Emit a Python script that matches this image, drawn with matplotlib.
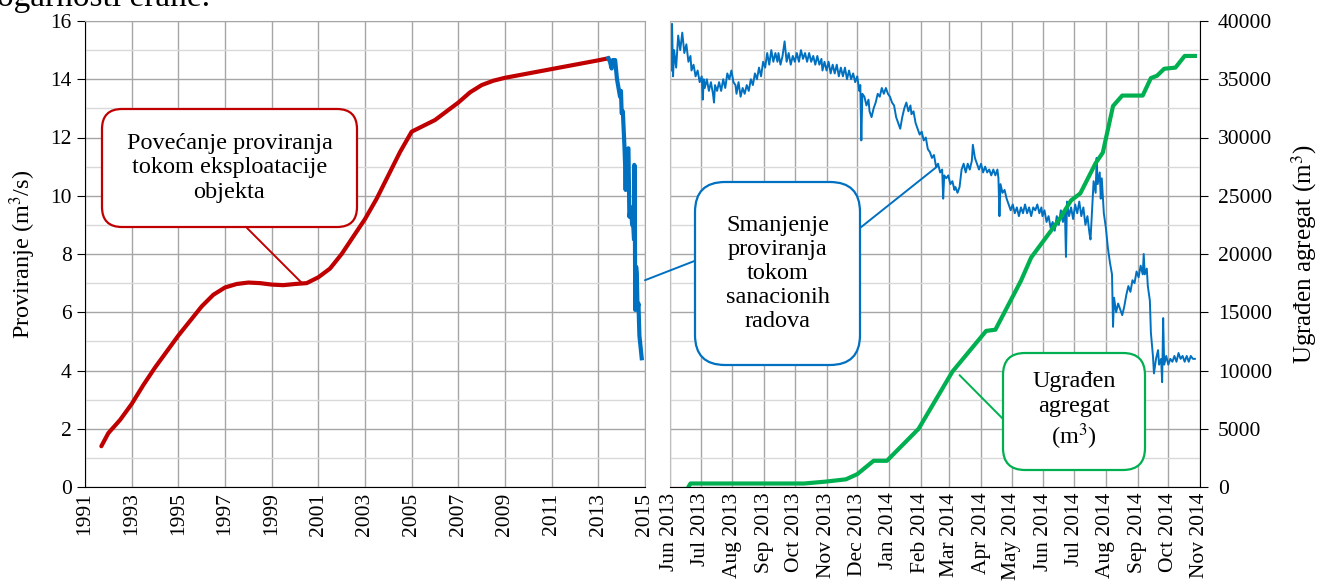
import matplotlib
matplotlib.use("Agg")
import matplotlib.pyplot as plt
import matplotlib.dates as mdates
import numpy as np
from matplotlib.patches import FancyBboxPatch, ConnectionPatch

plt.rcParams["font.family"] = ["Liberation Serif", "DejaVu Serif"]
plt.rcParams["mathtext.fontset"] = "stix"

RED = "#C00000"
BLUE = "#0070C0"
GREEN = "#00B050"

# seepage during operation (year, m3/s)
red_year = [1991.7, 1992.0, 1992.5, 1993.0, 1993.5, 1994.0, 1994.5, 1995.0, 1995.5,
            1996.0, 1996.5, 1997.0, 1997.5, 1998.0, 1998.5, 1999.0, 1999.5, 2000.0,
            2000.5, 2001.0, 2001.5, 2002.0, 2002.5, 2003.0, 2003.5, 2004.0, 2004.5,
            2005.0, 2005.5, 2006.0, 2006.5, 2007.0, 2007.5, 2008.0, 2008.5, 2009.0,
            2010.0, 2011.0, 2012.0, 2013.0, 2013.43]
red_q = [1.4, 1.85, 2.3, 2.85, 3.5, 4.1, 4.65, 5.2, 5.7,
         6.2, 6.6, 6.85, 6.97, 7.02, 7.0, 6.95, 6.93, 6.97,
         7.0, 7.2, 7.5, 8.0, 8.6, 9.2, 9.9, 10.7, 11.5,
         12.2, 12.4, 12.6, 12.9, 13.2, 13.55, 13.8, 13.95, 14.05,
         14.2, 14.35, 14.5, 14.65, 14.72]

# seepage during remediation, as drawn on the long-term panel (year, m3/s)
blue_year_lt = [2013.43, 2013.5, 2013.57, 2013.62, 2013.72, 2013.8, 2013.93, 2013.97,
                2014.0, 2014.05, 2014.12, 2014.15, 2014.17, 2014.2, 2014.29, 2014.33,
                2014.4, 2014.45, 2014.5, 2014.53, 2014.54, 2014.56, 2014.58, 2014.62,
                2014.65, 2014.68, 2014.72, 2014.76, 2014.86]
blue_q_lt = [14.72, 14.6, 14.37, 14.66, 14.66, 14.0, 13.4, 13.6,
             12.83, 12.9, 11.68, 11.0, 10.2, 11.5, 11.63, 9.28,
             9.6, 9.0, 8.94, 8.5, 11.06, 11.0, 6.08, 7.56,
             7.3, 6.1, 6.3, 5.2, 4.42]

# seepage during remediation works (days since 1 Jun 2013, m3/s)
blue_day = [1, 2, 3, 4, 6, 8, 10, 12, 14, 16, 18, 20, 21, 23, 25, 27, 29, 31, 32, 33,
            34, 36, 38, 40, 42, 43, 44, 46, 48, 50, 52, 54, 56, 58, 60, 62, 64, 65, 67, 69,
            71, 73, 75, 77, 79, 81, 83, 85, 87, 89, 91, 93, 95, 97, 99, 101, 103, 105, 106, 108,
            110, 112, 114, 116, 118, 120, 122, 124, 126, 128, 130, 132, 134, 136, 138, 140, 142, 144, 146, 148,
            149, 151, 153, 155, 157, 159, 161, 163, 165, 167, 169, 171, 173, 175, 177, 179, 181, 183, 185, 186,
            187, 188, 190, 192, 194, 195, 197, 199, 201, 203, 205, 207, 209, 211, 213, 215, 217, 219, 221, 223,
            225, 227, 229, 231, 233, 235, 236, 238, 240, 242, 244, 246, 248, 250, 252, 254, 256, 258, 260, 262,
            264, 266, 267, 268, 270, 272, 274, 276, 278, 279, 281, 283, 285, 287, 289, 291, 293, 295, 296, 298,
            300, 302, 304, 306, 308, 310, 312, 314, 316, 318, 320, 321, 322, 323, 325, 327, 329, 331, 333, 335,
            337, 339, 341, 343, 345, 347, 349, 351, 353, 355, 357, 359, 361, 363, 364, 366, 368, 370, 372, 374,
            376, 378, 380, 382, 384, 386, 387, 388, 390, 392, 394, 396, 398, 400, 402, 404, 406, 408, 410, 411,
            413, 414, 416, 417, 418, 420, 421, 422, 424, 426, 428, 430, 432, 433, 434, 436, 438, 440, 442, 444,
            446, 448, 450, 452, 454, 456, 458, 460, 462, 463, 464, 466, 467, 469, 470, 472, 473, 475, 477, 478,
            480, 481, 482, 483, 485, 487, 489, 491, 493, 495, 497, 499, 501, 503, 505, 507, 509, 511, 513]
blue_q = [14.3, 15.9, 14.1, 15.0, 14.4, 15.5, 15.0, 15.6, 14.9, 15.2, 14.6, 14.8, 14.3, 14.5, 14.1, 14.3, 13.9, 14.1, 13.3, 14.0,
          13.7, 14.0, 13.6, 13.9, 13.5, 13.2, 13.8, 13.6, 13.9, 13.6, 14.0, 13.7, 14.2, 14.0, 14.3, 13.9, 13.8, 13.5, 13.9, 13.4,
          13.7, 13.5, 13.8, 13.6, 14.0, 13.8, 14.2, 14.0, 14.4, 14.1, 14.6, 14.4, 14.9, 14.5, 15.0, 14.6, 14.9, 14.6, 14.9, 14.5,
          14.8, 15.3, 14.6, 14.9, 14.5, 14.8, 14.6, 14.9, 14.6, 15.0, 14.7, 14.9, 14.6, 14.9, 14.6, 14.8, 14.5, 14.8, 14.5, 14.7,
          14.3, 14.6, 14.3, 14.6, 14.2, 14.5, 14.2, 14.5, 14.1, 14.4, 14.1, 14.4, 14.0, 14.3, 14.0, 14.2, 13.9, 14.1, 13.6, 13.8,
          11.9, 13.5, 13.4, 13.1, 13.3, 12.9, 12.7, 13.0, 13.2, 13.5, 13.4, 13.7, 13.5, 13.7, 13.5, 13.4, 13.2, 13.1, 12.7, 12.5,
          12.3, 12.7, 13.0, 13.2, 12.9, 13.1, 12.8, 12.9, 12.5, 12.3, 12.1, 12.2, 11.9, 12.0, 11.6, 11.5, 11.3, 11.4, 11.0, 11.1,
          10.8, 10.9, 9.9, 10.7, 10.6, 10.7, 10.4, 10.5, 10.2, 10.3, 10.1, 10.3, 10.9, 11.1, 10.8, 11.1, 10.9, 11.2, 11.75, 11.3,
          11.1, 10.9, 11.1, 10.8, 11.0, 10.8, 10.9, 10.7, 10.9, 10.7, 10.9, 10.6, 9.3, 10.4, 10.1, 10.2, 9.9, 9.7, 9.5, 9.7,
          9.4, 9.6, 9.3, 9.6, 9.4, 9.7, 9.4, 9.6, 9.3, 9.6, 9.5, 9.7, 9.4, 9.6, 9.3, 9.5, 9.1, 9.3, 8.9, 9.1,
          8.8, 9.3, 9.0, 9.5, 9.1, 9.4, 7.9, 9.8, 9.3, 9.6, 9.2, 9.7, 9.4, 9.8, 9.3, 9.6, 9.0, 9.3, 8.7, 8.5,
          9.8, 10.5, 10.1, 11.3, 10.4, 10.8, 9.9, 10.6, 9.4, 8.9, 8.2, 7.7, 7.3, 5.5, 6.5, 6.0, 6.3, 6.1, 5.9, 6.2,
          6.6, 6.9, 6.7, 7.1, 7.0, 7.4, 7.2, 7.6, 7.3, 8.0, 7.3, 7.5, 6.9, 6.4, 5.3, 4.5, 3.9, 4.4, 4.7, 4.2,
          4.4, 3.6, 5.8, 4.2, 4.5, 4.2, 4.4, 4.3, 4.5, 4.3, 4.6, 4.4, 4.5, 4.3, 4.5, 4.3, 4.5, 4.4, 4.4]

# placed aggregate (days since 1 Jun 2013, m3)
green_day = [18, 20, 131, 152, 172, 183, 199, 212, 243, 276, 309, 318, 343, 353, 380,
             392, 401, 416, 423, 433, 442, 462, 470, 476, 483, 494, 503, 513]
green_vol = [0, 300, 300, 460, 660, 1100, 2250, 2250, 5000, 9900, 13400, 13500, 17700,
             19700, 22900, 24600, 25200, 27800, 28700, 32700, 33600, 33600, 35100, 35300,
             35900, 36000, 37000, 37000]

W, H = 1319, 581
fig = plt.figure(figsize=(W / 100, H / 100), dpi=100)
ax1 = fig.add_axes([85 / W, 94 / H, 560 / W, 466 / H])
ax2 = fig.add_axes([670 / W, 94 / H, 530 / W, 466 / H])
ax3 = ax2.twinx()

FS = 15.5
start = np.datetime64("2013-06-01")
blue_dates = start + np.array(blue_day, dtype="timedelta64[D]")
green_dates = start + np.array(green_day, dtype="timedelta64[D]")

# --- left panel
ax1.set_xlim(1991, 2015)
ax1.set_ylim(0, 16)
ax1.set_xticks(range(1991, 2016, 2))
ax1.set_xticklabels([str(y) for y in range(1991, 2016, 2)], rotation=90, fontsize=FS)
ax1.set_yticks(range(0, 17, 2))
ax1.set_yticks(range(1, 17, 2), minor=True)
ax1.tick_params(axis="y", labelsize=FS, length=6, direction="out")
ax1.tick_params(axis="y", which="minor", length=0)
ax1.tick_params(axis="x", length=0, pad=4)
ax1.grid(True, which="major", color="#A6A6A6", lw=1.0)
ax1.grid(True, which="minor", axis="y", color="#D9D9D9", lw=1.0)
ax1.set_axisbelow(True)
for s in ["top", "right"]:
    ax1.spines[s].set_color("#A6A6A6")
for s in ["left", "bottom"]:
    ax1.spines[s].set_color("black")
ax1.set_ylabel("Proviranje (m$^3$/s)", fontsize=17.5, labelpad=9)
ax1.plot(red_year, red_q, color=RED, lw=3, solid_capstyle="round")
ax1.plot(blue_year_lt, blue_q_lt, color=BLUE, lw=3, solid_joinstyle="round")

# --- right panel
ax2.set_xlim(start, np.datetime64("2014-11-01"))
ax2.set_ylim(0, 16)
ax2.xaxis.set_major_locator(mdates.MonthLocator())
ax2.xaxis.set_major_formatter(mdates.DateFormatter("%b %Y"))
ax2.tick_params(axis="x", labelsize=FS, rotation=90, length=0, pad=4)
ax2.set_yticks(range(0, 17, 2))
ax2.set_yticks(range(1, 17, 2), minor=True)
ax2.tick_params(axis="y", which="both", left=False, labelleft=False)
ax2.grid(True, which="major", color="#A6A6A6", lw=1.0)
ax2.grid(True, which="minor", axis="y", color="#D9D9D9", lw=1.0)
ax2.set_axisbelow(True)
ax2.spines["left"].set_color("#BFBFBF")
ax2.spines["top"].set_color("#A6A6A6")
ax2.spines["right"].set_visible(False)
ax2.plot(blue_dates, blue_q, color=BLUE, lw=1.4)

ax3.set_ylim(0, 40000)
ax3.set_yticks(range(0, 40001, 5000))
ax3.tick_params(axis="y", labelsize=FS, length=6, direction="out", pad=7)
for s in ["left", "top", "bottom"]:
    ax3.spines[s].set_visible(False)
ax3.spines["right"].set_color("black")
ax3.set_ylabel("Ugrađen agregat (m$^3$)", fontsize=18, labelpad=12)
ax3.plot(green_dates, green_vol, color=GREEN, lw=3)

# --- callouts (pixel layout, top-left origin)
def px(x, y):
    return (x / 100, (H - y) / 100)


def callout(x0, y0, x1, y1, color, text, r):
    p = FancyBboxPatch(px(x0, y1), (x1 - x0) / 100, (y1 - y0) / 100,
                       boxstyle="round,pad=0,rounding_size=%f" % (r / 100),
                       transform=fig.dpi_scale_trans, facecolor="white",
                       edgecolor=color, lw=1.6, zorder=5)
    fig.add_artist(p)
    cx, cy = px((x0 + x1) / 2, (y0 + y1) / 2)
    fig.text(cx, cy, text, transform=fig.dpi_scale_trans, ha="center", va="center",
             fontsize=17.5, linespacing=1.2, zorder=6)


def leader(x, y, ax, xy, color):
    c = ConnectionPatch(xyA=px(x, y), coordsA=fig.dpi_scale_trans, xyB=xy,
                        coordsB=ax.transData, color=color, lw=1.4, zorder=4)
    fig.add_artist(c)


leader(247, 228, ax1, (2000.3, 7.0), RED)
callout(102, 109, 357, 227, RED, "Povećanje proviranja\ntokom eksploatacije\nobjekta", 20)

leader(697, 260, ax1, (2015, 7.1), BLUE)
leader(860, 228, ax2, (mdates.date2num(np.datetime64("2014-02-17")), 11.0), BLUE)
callout(695, 182, 860, 365, BLUE, "Smanjenje\nproviranja\ntokom\nsanacionih\nradova", 30)

leader(1005, 421, ax3, (mdates.date2num(np.datetime64("2014-03-11")), 9600), GREEN)
callout(1003, 353, 1145, 470, GREEN, "Ugrađen\nagregat\n(m$^3$)", 22)

# cropped line of document text above the chart
fig.text(-0.002, 1 - 6 / H, "ogarnosti erane.", fontsize=24, va="baseline", ha="left")

fig.savefig("out.png", dpi=100)
